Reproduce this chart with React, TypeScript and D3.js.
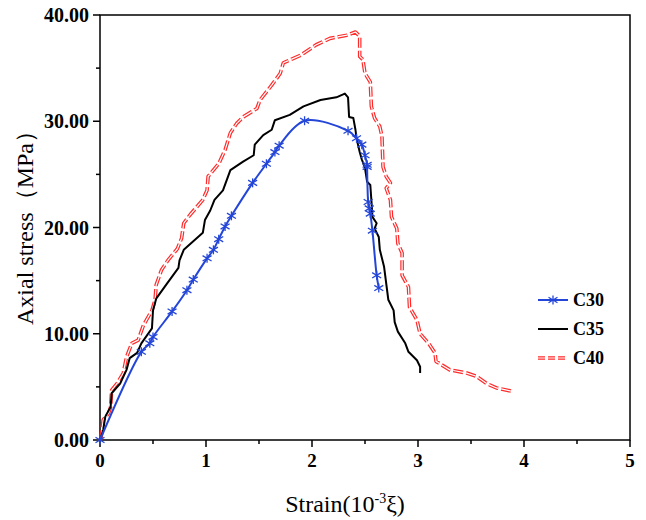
import React from "react";
import * as d3 from "d3";

const c30X = [0, 0.39, 0.47, 0.5, 0.68, 0.82, 0.88, 1.01, 1.07, 1.12, 1.18, 1.24, 1.44, 1.57, 1.65, 1.69, 1.93, 2.34, 2.42, 2.47, 2.5, 2.52, 2.52, 2.53, 2.54, 2.55, 2.57, 2.61, 2.63];
const c30Y = [0, 8.3, 9.1, 9.7, 12.1, 14.1, 15.1, 17.1, 17.9, 18.9, 20.1, 21.1, 24.2, 26.0, 27.1, 27.7, 30.05, 29.1, 28.4, 27.8, 26.8, 25.9, 25.7, 22.4, 21.8, 21.3, 19.7, 15.5, 14.3];

const c35X = [0, 0.03, 0.05, 0.1, 0.11, 0.19, 0.25, 0.28, 0.35, 0.39, 0.49, 0.5, 0.53, 0.63, 0.74, 0.75, 0.79, 0.88, 0.97, 0.99, 1.04, 1.08, 1.16, 1.23, 1.35, 1.45, 1.46, 1.54, 1.62, 1.65, 1.79, 1.92, 2.08, 2.23, 2.31, 2.34, 2.35, 2.39, 2.41, 2.42, 2.45, 2.47, 2.5, 2.52, 2.55, 2.56, 2.57, 2.61, 2.59, 2.63, 2.64, 2.68, 2.72, 2.77, 2.78, 2.81, 2.88, 2.91, 2.99, 3.02, 3.02];
const c35Y = [0, 0.94, 2.2, 3.1, 4.4, 5.3, 6.6, 7.7, 8.2, 9.1, 10.5, 12.2, 13.3, 14.7, 16.2, 16.9, 17.9, 18.7, 19.5, 20.7, 21.6, 22.6, 23.5, 25.4, 26.2, 26.8, 27.8, 28.7, 29.2, 30.1, 30.6, 31.4, 32.0, 32.25, 32.6, 32.25, 30.4, 30.3, 29.2, 28.4, 27.1, 26.4, 25.6, 24.3, 24.0, 22.6, 21.0, 20.4, 19.9, 19.1, 17.9, 16.3, 13.2, 12.2, 11.1, 10.2, 9.1, 8.3, 7.5, 6.9, 6.3];

const c40X = [0, 0.01, 0.03, 0.08, 0.1, 0.11, 0.16, 0.22, 0.25, 0.3, 0.36, 0.41, 0.49, 0.52, 0.53, 0.58, 0.64, 0.73, 0.77, 0.79, 0.85, 0.97, 1.01, 1.02, 1.12, 1.18, 1.23, 1.29, 1.35, 1.48, 1.51, 1.62, 1.7, 1.73, 1.89, 2.04, 2.17, 2.33, 2.41, 2.45, 2.45, 2.48, 2.5, 2.55, 2.56, 2.59, 2.64, 2.66, 2.67, 2.7, 2.74, 2.7, 2.74, 2.75, 2.8, 2.81, 2.85, 2.85, 2.91, 2.92, 2.99, 3.02, 3.1, 3.16, 3.17, 3.3, 3.46, 3.55, 3.65, 3.74, 3.88];
const c40Y = [0, 0.2, 1.9, 2.5, 3.1, 4.7, 5.3, 6.3, 7.8, 9.1, 9.4, 10.8, 12.2, 13.2, 14.6, 16.0, 16.9, 18.0, 19.0, 20.4, 21.2, 22.6, 23.5, 24.8, 26.0, 27.3, 28.9, 29.8, 30.4, 31.2, 32.0, 33.4, 34.5, 35.5, 36.2, 37.2, 37.8, 38.1, 38.4, 38.0, 36.1, 35.8, 34.5, 33.7, 31.4, 30.3, 29.5, 28.6, 25.7, 24.8, 24.2, 23.7, 22.6, 21.0, 19.9, 18.5, 17.6, 15.5, 14.4, 12.5, 11.3, 10.0, 9.1, 8.2, 7.4, 6.6, 6.3, 6.0, 5.3, 4.9, 4.6];

const xTicks = [0, 1, 2, 3, 4, 5];
const yTicks = [0, 10, 20, 30, 40];
const seriesNames = ["C30", "C35", "C40"];

const BLUE = "#2446d8";
const RED = "#ff2a2a";
const FONT = "'Liberation Serif', 'Times New Roman', serif";

function zip(xs: number[], ys: number[]): [number, number][] {
  return xs.map((x, i) => [x, ys[i]]);
}

function Star({ x, y, s = 4.5 }: { x: number; y: number; s?: number }) {
  return (
    <g stroke={BLUE} strokeWidth={1.3}>
      <line x1={x - s} y1={y - s * 0.6} x2={x + s} y2={y + s * 0.6} />
      <line x1={x - s} y1={y + s * 0.6} x2={x + s} y2={y - s * 0.6} />
      <line x1={x} y1={y - s} x2={x} y2={y + s} />
    </g>
  );
}

export default function App() {
  const L = 100, R = 630, T = 15, B = 440;
  const x = d3.scaleLinear().domain([0, 5]).range([L, R]);
  const y = d3.scaleLinear().domain([0, 40]).range([B, T]);
  const line = d3.line<[number, number]>().x(d => x(d[0])).y(d => y(d[1]));
  const smooth = d3.line<[number, number]>().x(d => x(d[0])).y(d => y(d[1])).curve(d3.curveCatmullRom.alpha(0.5));

  const d30 = zip(c30X, c30Y);
  const d35 = zip(c35X, c35Y);
  const d40 = zip(c40X, c40Y);

  const xMinor = d3.range(0.5, 5, 1);
  const yMinor = d3.range(5, 40, 10);

  const legX = 538, legY = [300, 329, 358];

  return (
    <svg width={646} height={520} style={{ position: "absolute", left: 0, top: 0, background: "#fff" }}>
      <rect x={0} y={0} width={646} height={520} fill="#fff" />
      {/* frame */}
      <rect x={L} y={T} width={R - L} height={B - T} fill="none" stroke="#000" strokeWidth={1.5} />
      {/* y ticks */}
      {yTicks.map(t => (
        <g key={"yt" + t}>
          <line x1={L - 7} x2={L} y1={y(t)} y2={y(t)} stroke="#000" strokeWidth={1.5} />
          <text x={L - 11} y={y(t)} dy="0.35em" textAnchor="end" fontFamily={FONT} fontWeight="bold" fontSize={20}>{t.toFixed(2)}</text>
        </g>
      ))}
      {yMinor.map(t => (
        <line key={"ym" + t} x1={L - 4} x2={L} y1={y(t)} y2={y(t)} stroke="#000" strokeWidth={1.5} />
      ))}
      {/* x ticks */}
      {xTicks.map(t => (
        <g key={"xt" + t}>
          <line x1={x(t)} x2={x(t)} y1={B} y2={B + 7} stroke="#000" strokeWidth={1.5} />
          <text x={x(t)} y={B + 27} textAnchor="middle" fontFamily={FONT} fontWeight="bold" fontSize={19}>{t}</text>
        </g>
      ))}
      {xMinor.map(t => (
        <line key={"xm" + t} x1={x(t)} x2={x(t)} y1={B} y2={B + 4} stroke="#000" strokeWidth={1.5} />
      ))}
      {/* axis titles */}
      <text transform={`translate(33,222) rotate(-90)`} textAnchor="middle" fontFamily={FONT} fontSize={24}>Axial stress（MPa）</text>
      <text x={345} y={512} textAnchor="middle" fontFamily={FONT} fontSize={24}>
        Strain(10<tspan dy={-9} fontSize={14}>-3</tspan><tspan dy={9}>ξ)</tspan>
      </text>

      {/* C40 hollow dashed */}
      <path d={line(d40) || ""} fill="none" stroke={RED} strokeWidth={3.6} strokeDasharray="10 3" strokeLinejoin="round" />
      <path d={line(d40) || ""} fill="none" stroke="#fff" strokeWidth={1.2} strokeDasharray="10 3" strokeLinejoin="round" />
      {/* C35 */}
      <path d={line(d35) || ""} fill="none" stroke="#000" strokeWidth={2} strokeLinejoin="round" />
      {/* C30 */}
      <path d={smooth(d30) || ""} fill="none" stroke={BLUE} strokeWidth={2} />
      {d30.map((p, i) => <Star key={"s" + i} x={x(p[0])} y={y(p[1])} />)}

      {/* legend */}
      <line x1={legX} x2={legX + 30} y1={legY[0]} y2={legY[0]} stroke={BLUE} strokeWidth={2} />
      <Star x={legX + 15} y={legY[0]} />
      <line x1={legX} x2={legX + 30} y1={legY[1]} y2={legY[1]} stroke="#000" strokeWidth={2} />
      <line x1={legX} x2={legX + 30} y1={legY[2]} y2={legY[2]} stroke={RED} strokeWidth={3.6} strokeDasharray="7 3" />
      <line x1={legX} x2={legX + 30} y1={legY[2]} y2={legY[2]} stroke="#fff" strokeWidth={1.2} strokeDasharray="7 3" />
      {seriesNames.map((n, i) => (
        <text key={n} x={legX + 35} y={legY[i]} dy="0.35em" fontFamily={FONT} fontWeight="bold" fontSize={18}>{n}</text>
      ))}
    </svg>
  );
}
